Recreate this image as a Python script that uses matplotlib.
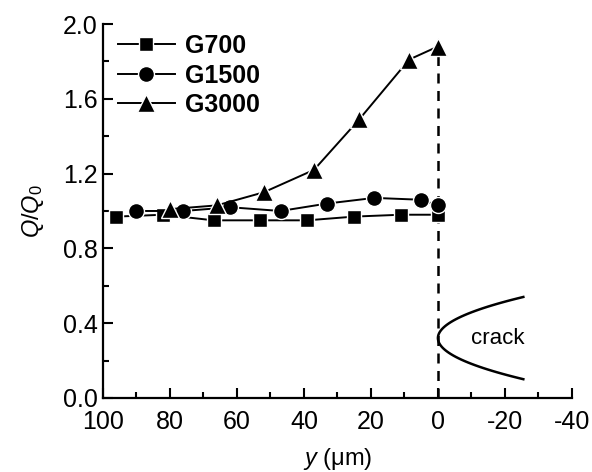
import numpy as np
import matplotlib
matplotlib.use("Agg")
import matplotlib.pyplot as plt
from matplotlib.ticker import MultipleLocator, FormatStrFormatter

plt.rcParams['font.family'] = ['Liberation Sans', 'DejaVu Sans']
plt.rcParams['mathtext.fontset'] = 'custom'
plt.rcParams['mathtext.rm'] = 'Liberation Sans'
plt.rcParams['mathtext.it'] = 'Liberation Sans:italic'
plt.rcParams['axes.unicode_minus'] = False

# data
x_g700 = [96, 82, 67, 53, 39, 25, 11, 0]
y_g700 = [0.97, 0.98, 0.95, 0.95, 0.95, 0.97, 0.98, 0.98]

x_g1500 = [90, 76, 62, 47, 33, 19, 5, 0]
y_g1500 = [1.00, 1.00, 1.02, 1.00, 1.04, 1.07, 1.06, 1.03]

x_g3000 = [80, 66, 52, 37, 23.5, 8.6, 0]
y_g3000 = [1.01, 1.03, 1.10, 1.22, 1.49, 1.81, 1.88]

fig = plt.figure(figsize=(5.92, 4.72), dpi=100)
ax = fig.add_axes([0.174, 0.157, 0.792, 0.792])

# white marker edge gives the small gap between line and symbol
style = dict(color='black', lw=1.4, mec='white', mew=1.0)
ax.plot(x_g700, y_g700, '-', marker='s', ms=10, label='G700', **style)
ax.plot(x_g1500, y_g1500, '-', marker='o', ms=11.5, label='G1500', **style)
ax.plot(x_g3000, y_g3000, '-', marker='^', ms=13, label='G3000', **style)

# crack tip at y = 0
ax.plot([0, 0], [0, 1.88], '--', color='black', lw=1.8, dashes=(4, 3), zorder=1)
cy = np.linspace(0.10, 0.54, 60)
cx = -527 * (cy - 0.32) ** 2
ax.plot(cx, cy, color='black', lw=1.8)
ax.text(-18, 0.32, 'crack', fontsize=16, ha='center', va='center')

ax.set_xlim(100, -40)
ax.set_ylim(0, 2.0)
ax.xaxis.set_major_locator(MultipleLocator(20))
ax.xaxis.set_minor_locator(MultipleLocator(10))
ax.yaxis.set_major_locator(MultipleLocator(0.4))
ax.yaxis.set_minor_locator(MultipleLocator(0.2))
ax.yaxis.set_major_formatter(FormatStrFormatter('%.1f'))

ax.spines['top'].set_visible(False)
ax.spines['right'].set_visible(False)
for s in ['left', 'bottom']:
    ax.spines[s].set_linewidth(1.6)
ax.tick_params(which='major', direction='in', length=7, width=1.5, labelsize=18)
ax.tick_params(axis='x', which='major', pad=9)
ax.tick_params(axis='y', which='major', pad=4)
ax.tick_params(which='minor', direction='in', length=4, width=1.5)

ax.set_xlabel(r'$\it{y}$ ($\mathrm{\mu}$m)', fontsize=17, labelpad=8)
ax.set_ylabel(r'$Q/Q_0$', fontsize=17, labelpad=12)

leg = ax.legend(loc='upper left', frameon=False, handlelength=2.3, handletextpad=0.4,
                labelspacing=0.22, borderaxespad=0.0, bbox_to_anchor=(0.01, 1.0),
                prop={'weight': 'bold', 'size': 18})

fig.savefig('out.png', dpi=100)
